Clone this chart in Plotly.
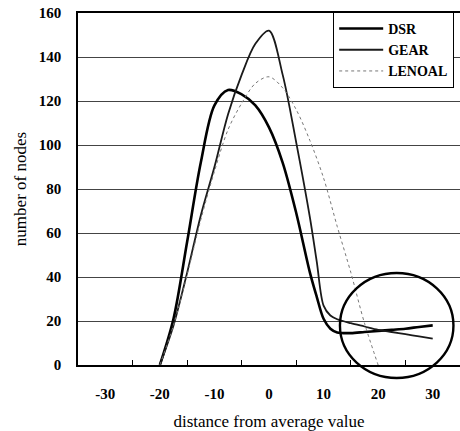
import plotly.graph_objects as go

x_vals = [-20, -17.5, -15, -12.5, -10, -7.5, -5, -2.5, 0, 2.5, 5, 7.5, 8.75, 10, 11.25, 12.5, 15, 17.5, 20, 22.5, 25, 27.5, 30]
dsr = [0, 21, 56, 92, 118, 125, 123, 118, 108, 92, 69, 42, 31, 21, 16.5, 14.8, 14.5, 15, 15.5, 16, 16.5, 17.3, 18]
gear = [0, 18, 42, 68, 90, 114, 132, 146, 152, 132, 101, 67, 47, 27, 22.5, 20.8, 19, 17.5, 16, 15, 14, 13, 12]
x_len = [-20, -17.5, -15, -12.5, -10, -7.5, -5, -2.5, 0, 2.5, 5, 7.5, 10, 12.5, 15, 17.5, 20]
lenoal = [0, 18, 41, 66, 88, 107, 119, 128, 131, 126, 116, 102, 85, 63, 42, 19, 0]

x_ticks = [-30, -20, -10, 0, 10, 20, 30]
y_ticks = [0, 20, 40, 60, 80, 100, 120, 140, 160]

x_range = [-35, 35]
y_range = [0, 160]
# highlight circle (data coordinates)
circle_x = [13.0, 33.8]
circle_y = [-5.9, 41.8]

serif = "Liberation Serif"

fig = go.Figure()
fig.add_trace(go.Scatter(x=x_vals, y=dsr, name="DSR", mode="lines",
                         line=dict(color="black", width=2.6, shape="spline", smoothing=0.9)))
fig.add_trace(go.Scatter(x=x_vals, y=gear, name="GEAR", mode="lines",
                         line=dict(color="#1a1a1a", width=1.8, shape="spline", smoothing=0.9)))
fig.add_trace(go.Scatter(x=x_len, y=lenoal, name="LENOAL", mode="lines",
                         line=dict(color="#777777", width=1, dash="dot", shape="spline", smoothing=0.9)))

def to_paper(v, r):
    return (v - r[0]) / (r[1] - r[0])

fig.add_shape(type="circle", xref="paper", yref="paper",
              x0=to_paper(circle_x[0], x_range), x1=to_paper(circle_x[1], x_range),
              y0=to_paper(circle_y[0], y_range), y1=to_paper(circle_y[1], y_range),
              line=dict(color="black", width=2.4))

fig.update_layout(
    width=460, height=431,
    margin=dict(l=78, r=0, t=13, b=66),
    plot_bgcolor="white", paper_bgcolor="white",
    font=dict(family=serif, color="black"),
    showlegend=True,
    legend=dict(x=0.668, y=1.003, xanchor="left", yanchor="top",
                bgcolor="white", bordercolor="black", borderwidth=1,
                font=dict(family=serif, size=14, weight="bold"),
                tracegroupgap=0, itemwidth=44),
    xaxis=dict(range=x_range, tickmode="array", tickvals=x_ticks,
               ticktext=[str(v) for v in x_ticks], ticks="",
               showgrid=False, zeroline=False, showline=True, mirror=True,
               linecolor="black", linewidth=1.5, automargin=False,
               tickfont=dict(family=serif, size=15, weight="bold"),
               ticklabelstandoff=14,
               minor=dict(tickmode="array", tickvals=[-25, -15, -5, 5, 15, 25],
                          ticks="inside", ticklen=5, tickcolor="black", tickwidth=1, showgrid=False),
               title=dict(text="distance from average value", font=dict(family=serif, size=17), standoff=14)),
    yaxis=dict(range=y_range, tickmode="array", tickvals=y_ticks, ticks="",
               showgrid=True, gridcolor="#444444", gridwidth=1.2, zeroline=False,
               showline=True, linecolor="black", linewidth=1.5, automargin=False,
               tickfont=dict(family=serif, size=15, weight="bold"),
               ticklabelstandoff=12, ticklabeloverflow="allow",
               title=dict(text="number of nodes", font=dict(family=serif, size=17), standoff=8)),
)

# remove the page's default 8px body margin so the 460x431 figure fills the window
fig.write_html("out.html", config={"displayModeBar": False},
               post_script="document.body.style.margin='0';")
